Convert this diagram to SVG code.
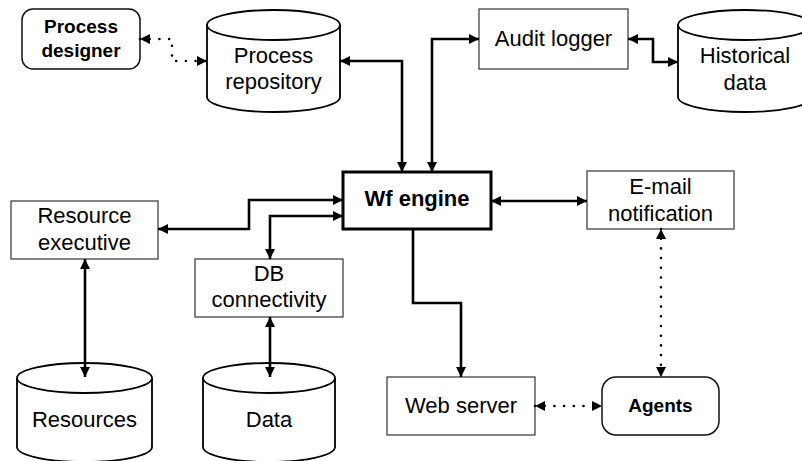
<svg xmlns="http://www.w3.org/2000/svg" width="802" height="461" viewBox="0 0 802 461">
<style>
  text { font-family: "Liberation Sans", Arial, sans-serif; font-size: 22px; fill: #000; text-anchor: middle; }
  .b { font-weight: bold; font-size: 19px; }
  .eng { font-weight: bold; font-size: 22px; }
  .box { fill: #fff; stroke: #444; stroke-width: 1.3; }
  .rbox { fill: #fff; stroke: #111; stroke-width: 1.5; }
  .engine { fill: #fff; stroke: #000; stroke-width: 3; }
  .cyl { fill: #fff; stroke: #000; stroke-width: 1.8; }
  .c { fill: none; stroke: #000; stroke-width: 2.6; }
  .d { fill: none; stroke: #000; stroke-width: 2.6; stroke-dasharray: 0 9.7; stroke-linecap: round; }
</style>
<defs>
  <marker id="ah" viewBox="0 0 10 10" refX="10" refY="5" markerWidth="11" markerHeight="10" markerUnits="userSpaceOnUse" orient="auto-start-reverse">
    <path d="M0,0 L10,5 L0,10 z" fill="#000"/>
  </marker>
</defs>
<rect width="802" height="461" fill="#fff"/>

<g id="process-designer">
  <rect class="rbox" x="22" y="9" width="118" height="60" rx="11"/>
  <text class="b" x="81" y="33">Process</text>
  <text class="b" x="81" y="57">designer</text>
</g>
<g id="process-repository">
  <path class="cyl" d="M207,25 V97 A66.5,15 0 0 0 340,97 V25"/>
  <ellipse class="cyl" cx="273.5" cy="25" rx="66.5" ry="15"/>
  <text x="273.5" y="63">Process</text>
  <text x="273.5" y="89">repository</text>
</g>
<g id="audit-logger">
  <rect class="box" x="479" y="9" width="149" height="60"/>
  <text x="553.5" y="46">Audit logger</text>
</g>
<g id="historical-data">
  <path class="cyl" d="M678,25 V97 A67,15 0 0 0 812,97 V25"/>
  <ellipse class="cyl" cx="745" cy="25" rx="67" ry="15"/>
  <text x="745" y="63">Historical</text>
  <text x="745" y="90">data</text>
</g>
<g id="resource-executive">
  <rect class="box" x="11" y="201" width="147" height="58"/>
  <text x="84.5" y="223">Resource</text>
  <text x="84.5" y="250">executive</text>
</g>
<g id="wf-engine">
  <rect class="engine" x="343" y="172" width="148" height="57"/>
  <text class="eng" x="417" y="206">Wf engine</text>
</g>
<g id="email-notification">
  <rect class="box" x="587" y="171" width="147" height="58"/>
  <text x="660.5" y="194">E-mail</text>
  <text x="660.5" y="221">notification</text>
</g>
<g id="db-connectivity">
  <rect class="box" x="195" y="259" width="148" height="58"/>
  <text x="269" y="281">DB</text>
  <text x="269" y="307">connectivity</text>
</g>
<g id="resources">
  <path class="cyl" d="M17,378 V447 A67.5,15 0 0 0 152,447 V378"/>
  <ellipse class="cyl" cx="84.5" cy="378" rx="67.5" ry="15"/>
  <text x="84.5" y="427">Resources</text>
</g>
<g id="data">
  <path class="cyl" d="M203,378 V447 A66,15 0 0 0 335,447 V378"/>
  <ellipse class="cyl" cx="269" cy="378" rx="66" ry="15"/>
  <text x="269" y="427">Data</text>
</g>
<g id="web-server">
  <rect class="box" x="387" y="377" width="148" height="58"/>
  <text x="461" y="413">Web server</text>
</g>
<g id="agents">
  <rect class="rbox" x="602" y="377" width="117" height="58" rx="14"/>
  <text class="b" x="660.5" y="412">Agents</text>
</g>

<g id="connectors">
  <path class="d" d="M140,39 H172 V61 H207" marker-start="url(#ah)" marker-end="url(#ah)"/>
  <path class="c" d="M340,61 H402 V172" marker-start="url(#ah)" marker-end="url(#ah)"/>
  <path class="c" d="M432,172 V39 H479" marker-start="url(#ah)" marker-end="url(#ah)"/>
  <path class="c" d="M628,39 H653 V62 H678" marker-start="url(#ah)" marker-end="url(#ah)"/>
  <path class="c" d="M491,201 H587" marker-start="url(#ah)" marker-end="url(#ah)"/>
  <path class="d" d="M661,229 V377" marker-start="url(#ah)" marker-end="url(#ah)"/>
  <path class="c" d="M413,229 V303 H461 V377" marker-end="url(#ah)"/>
  <path class="d" d="M535,406 H602" marker-start="url(#ah)" marker-end="url(#ah)"/>
  <path class="c" d="M343,200 H249 V229 H158" marker-start="url(#ah)" marker-end="url(#ah)"/>
  <path class="c" d="M343,216 H270 V259" marker-start="url(#ah)" marker-end="url(#ah)"/>
  <path class="c" d="M85,259 V377" marker-start="url(#ah)" marker-end="url(#ah)"/>
  <path class="c" d="M270,317 V377" marker-start="url(#ah)" marker-end="url(#ah)"/>
</g>
</svg>
